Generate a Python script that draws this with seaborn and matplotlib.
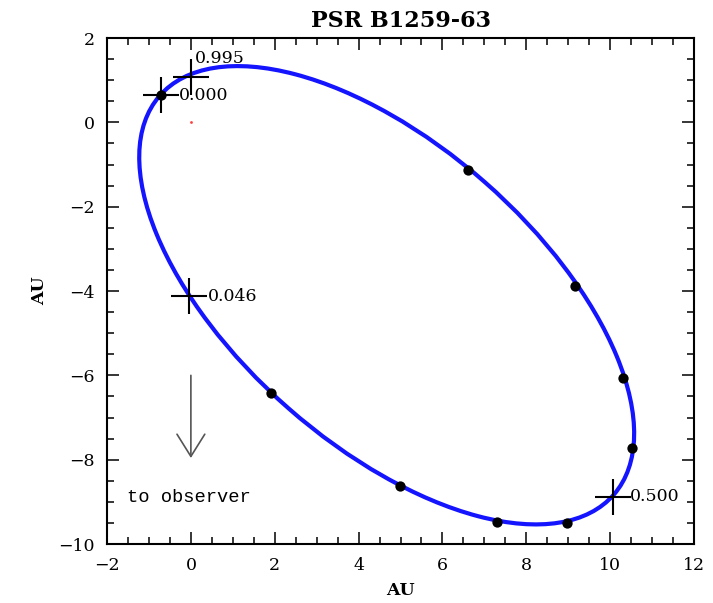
import matplotlib
matplotlib.use("Agg")
import matplotlib.pyplot as plt
from matplotlib.patches import Ellipse
from matplotlib.ticker import MultipleLocator
import seaborn as sns
import pandas as pd

# ---- data ----
title = "PSR B1259-63"
xlabel = "AU"
ylabel = "AU"

# orbit (ellipse) parameters in AU / degrees
orbit_center = (4.67, -4.10)
orbit_major = 14.38      # full major axis
orbit_minor = 7.12       # full minor axis
orbit_angle = -41.1      # degrees

# black dots along the orbit
dot_x = [-0.72, 1.92, 4.99, 7.30, 8.97, 10.53, 10.31, 9.17, 6.62]
dot_y = [0.64, -6.43, -8.63, -9.47, -9.49, -7.73, -6.07, -3.89, -1.14]

# marked orbital phases (crosses)
phase_labels = ["0.995", "0.000", "0.046", "0.500"]
phase_x = [0.00, -0.72, -0.05, 10.06]
phase_y = [1.07, 0.64, -4.12, -8.88]

# companion star position
star_x = [0.0]
star_y = [0.0]

observer_text = "to observer"

# ---- plotting ----
sns.set_style("ticks")
plt.rcParams["font.family"] = ["DejaVu Serif", "DejaVu Sans"]
plt.rcParams.update({"text.color": "black", "axes.labelcolor": "black",
                     "xtick.color": "black", "ytick.color": "black"})

fig = plt.figure(figsize=(7.13, 6.03), dpi=100)
ax = fig.add_axes([0.1501, 0.0978, 0.8233, 0.8391])

ax.add_patch(Ellipse(orbit_center, width=orbit_major, height=orbit_minor,
                     angle=orbit_angle, fill=False, edgecolor="#1414ff",
                     lw=3.0, zorder=2))

dots = pd.DataFrame({"x": dot_x, "y": dot_y})
sns.scatterplot(data=dots, x="x", y="y", ax=ax, color="black", s=55,
                edgecolor="black", linewidth=0, zorder=4)

crosses = pd.DataFrame({"x": phase_x, "y": phase_y, "label": phase_labels})
sns.scatterplot(data=crosses, x="x", y="y", ax=ax, marker="+", s=650,
                color="black", linewidth=1.5, zorder=5)

star = pd.DataFrame({"x": star_x, "y": star_y})
sns.scatterplot(data=star, x="x", y="y", ax=ax, color="#ff4040", s=4,
                linewidth=0, zorder=3)

label_offsets = [(3, 13.5), (13, 0), (13.5, 0), (12.5, 0)]
for lab, px, py, off in zip(phase_labels, phase_x, phase_y, label_offsets):
    ax.annotate(lab, xy=(px, py), xytext=off, textcoords="offset points",
                ha="left", va="center", fontsize=12.5, color="black",
                zorder=6)

ax.annotate("", xy=(0.0, -7.96), xytext=(0.0, -6.0),
            arrowprops=dict(arrowstyle="->,head_length=0.8,head_width=0.5",
                            mutation_scale=20, color="#555555", lw=1.2,
                            shrinkA=0, shrinkB=0))
ax.text(-1.52, -8.89, observer_text, ha="left", va="center",
        fontsize=13.5, color="black",
        family=["Liberation Mono", "DejaVu Sans Mono"])

ax.set_xlim(-2, 12)
ax.set_ylim(-10, 2)
ax.xaxis.set_major_locator(MultipleLocator(2))
ax.xaxis.set_minor_locator(MultipleLocator(0.5))
ax.yaxis.set_major_locator(MultipleLocator(2))
ax.yaxis.set_minor_locator(MultipleLocator(0.5))
ax.tick_params(which="both", direction="in", top=True, right=True,
               width=1.1, colors="black", labelsize=12.5)
ax.tick_params(which="major", length=8.5, pad=9)
ax.tick_params(which="minor", length=5)
for s in ax.spines.values():
    s.set_linewidth(1.5)
    s.set_color("black")

ax.set_xlabel(xlabel, fontsize=12.5, fontweight="bold", labelpad=6)
ax.set_ylabel(ylabel, fontsize=12.5, fontweight="bold", labelpad=7)
ax.set_title(title, fontsize=16, fontweight="bold", pad=8, color="black")

fig.savefig("out.png", dpi=100)
